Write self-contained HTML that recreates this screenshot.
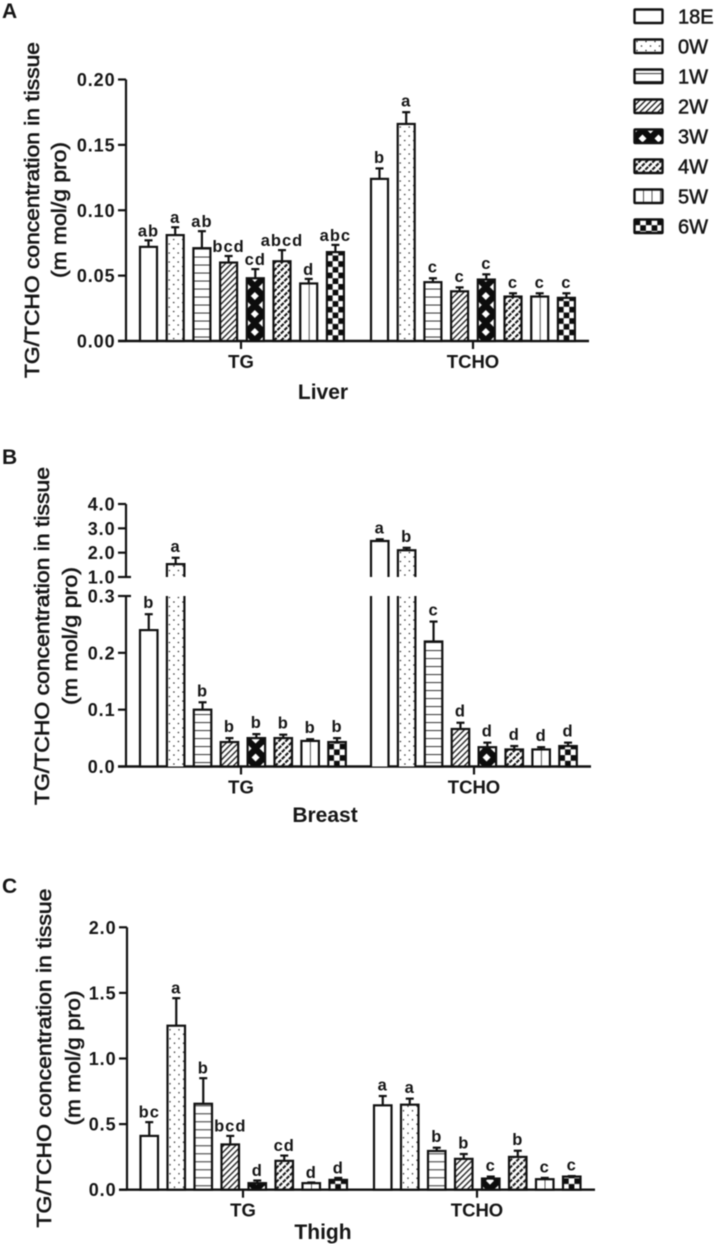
<!DOCTYPE html>
<html>
<head>
<meta charset="utf-8">
<title>TG/TCHO concentration in tissue</title>
<style>
html,body{margin:0;padding:0;background:#fff}
#chart{display:block;filter:blur(0.4px)}
text{font-family:"Liberation Sans",sans-serif;fill:#161616}
.tick{font-size:18px;font-weight:bold;text-anchor:end;letter-spacing:.9px}
.letter{font-size:16.5px;font-weight:bold;text-anchor:middle;letter-spacing:1px}
.group{font-size:18.5px;font-weight:bold;text-anchor:middle}
.tissue{font-size:21px;font-weight:bold;text-anchor:middle}
.panel{font-size:21px;font-weight:bold}
.ytitle{font-size:20px;text-anchor:middle;stroke:#161616;stroke-width:.6px}
.legend{font-size:20px;stroke:#161616;stroke-width:.5px}
</style>
</head>
<body>
<svg id="chart" width="716" height="1244" viewBox="0 0 716 1244" xmlns="http://www.w3.org/2000/svg">
<defs>
<pattern id="p18E" width="10" height="10" patternUnits="userSpaceOnUse"><rect width="10" height="10" fill="#fff"/></pattern>
<pattern id="p0W" width="9" height="9" patternUnits="userSpaceOnUse"><rect width="9" height="9" fill="#fff"/><circle cx="2.5" cy="2" r=".75" fill="#222"/><circle cx="7" cy="6.5" r=".75" fill="#222"/></pattern>
<pattern id="p1W" width="8" height="8" patternUnits="userSpaceOnUse"><rect width="8" height="8" fill="#fff"/><rect y="3.5" width="8" height="1.1" fill="#444"/></pattern>
<pattern id="p2W" width="6" height="6" patternUnits="userSpaceOnUse"><rect width="6" height="6" fill="#fff"/><path d="M-1.5 1.5L1.5 -1.5M0 6L6 0M4.5 7.5L7.5 4.5" stroke="#222" stroke-width="1.4"/></pattern>
<pattern id="p3W" width="16" height="18" patternUnits="userSpaceOnUse"><rect width="16" height="18" fill="#0c0c0c"/><path d="M8 5L12 9L8 13L4 9Z" fill="#fff"/><path d="M0 -4L4 0L0 4L-4 0ZM16 -4L20 0L16 4L12 0ZM0 14L4 18L0 22L-4 18ZM16 14L20 18L16 22L12 18Z" fill="#fff"/></pattern>
<pattern id="p4W" width="7" height="7" patternUnits="userSpaceOnUse"><rect width="7" height="7" fill="#fff"/><path d="M-1.75 1.75L1.75 -1.75M0 7L7 0M5.25 8.75L8.75 5.25" stroke="#1a1a1a" stroke-width="2.1"/><path d="M0 0L7 7M-3.5 3.5L3.5 10.5M3.5 -3.5L10.5 3.5" stroke="#fff" stroke-width="1"/></pattern>
<pattern id="p5W" width="8.5" height="10" patternUnits="userSpaceOnUse"><rect width="8.5" height="10" fill="#fff"/><rect x="0" width="1" height="10" fill="#555"/></pattern>
<pattern id="p6W" width="11.4" height="11.4" patternUnits="userSpaceOnUse"><rect width="11.4" height="11.4" fill="#fff"/><rect width="5.7" height="5.7" fill="#0c0c0c"/><rect x="5.7" y="5.7" width="5.7" height="5.7" fill="#0c0c0c"/></pattern>
</defs>
</svg>
<script>
const weeks = ['18E','0W','1W','2W','3W','4W','5W','6W'];
const groups = ['TG','TCHO'];

const liverTicks = ['0.00','0.05','0.10','0.15','0.20'];
const liverTgValues = [0.072,0.081,0.071,0.060,0.048,0.061,0.044,0.068];
const liverTgTops = [0.077,0.087,0.084,0.065,0.055,0.0695,0.0475,0.0735];
const liverTgLetters = ['ab','a','ab','bcd','cd','abcd','d','abc'];
const liverTchoValues = [0.124,0.166,0.045,0.038,0.047,0.034,0.034,0.033];
const liverTchoTops = [0.132,0.175,0.048,0.041,0.051,0.0365,0.0365,0.0365];
const liverTchoLetters = ['b','a','c','c','c','c','c','c'];

const breastLowerTicks = ['0.0','0.1','0.2','0.3'];
const breastUpperTicks = ['1.0','2.0','3.0','4.0'];
const breastTgValues = [0.24,1.53,0.10,0.043,0.05,0.05,0.045,0.043];
const breastTgTops = [0.268,1.79,0.113,0.05,0.057,0.056,0.048,0.05];
const breastTgLetters = ['b','a','b','b','b','b','b','b'];
const breastTchoValues = [2.48,2.10,0.22,0.066,0.034,0.03,0.03,0.036];
const breastTchoTops = [2.55,2.20,0.255,0.077,0.042,0.036,0.034,0.042];
const breastTchoLetters = ['a','b','c','d','d','d','d','d'];

const thighTicks = ['0.0','0.5','1.0','1.5','2.0'];
const thighTgValues = [0.41,1.25,0.655,0.345,0.05,0.22,0.05,0.075];
const thighTgTops = [0.515,1.46,0.85,0.41,0.07,0.26,0.055,0.09];
const thighTgLetters = ['bc','a','b','bcd','d','cd','d','d'];
const thighTchoValues = [0.643,0.648,0.295,0.235,0.085,0.25,0.08,0.10];
const thighTchoTops = [0.714,0.694,0.32,0.272,0.10,0.297,0.09,0.104];
const thighTchoLetters = ['a','a','b','b','c','b','c','c'];

const svg = document.getElementById('chart');
const NS = 'http://www.w3.org/2000/svg';
const INK = '#111';

function mk(tag, parent, props, content) {
  const el = document.createElementNS(NS, tag);
  for (const k in props) el.setAttribute(k, props[k]);
  if (content !== undefined) el.textContent = content;
  parent.appendChild(el);
  return el;
}
function line(parent, x1, y1, x2, y2, w) {
  return mk('line', parent, {x1:x1, y1:y1, x2:x2, y2:y2, stroke:INK, 'stroke-width':w || 2.2});
}

function linearScale(dMin, dMax, pMin, pMax) {
  return v => pMin + (v - dMin) / (dMax - dMin) * (pMax - pMin);
}

function yTicks(g, labels, scale, axisX, tickLeft) {
  labels.forEach(t => {
    const y = scale(parseFloat(t));
    const tick = line(g, tickLeft, y, axisX, y);
    
    
    const lab = mk('text', g, {class:'tick', x:tickLeft - 2.5, y:y + 6.5}, t);
    
    
  });
}

function drawBar(g, groupName, i, x, w, baseY, scale, value, top, letter, gap, labelGap) {
  const bar = mk('g', g, {transform:'translate(' + x + ',' + baseY + ')'});
  
  
  const fill = 'url(#p' + weeks[i] + ')';
  const vy = scale(value) - baseY;
  const ty = scale(top) - baseY;
  const cx = w / 2;
  line(bar, cx, vy, cx, ty, 2.2);
  line(bar, cx - 4, ty, cx + 4, ty, 2.2);
  if (gap && vy < gap.high - baseY) {
    const lowTop = gap.low - baseY;
    const upBottom = gap.high - baseY;
    mk('rect', bar, {x:0, y:lowTop, width:w, height:-lowTop, fill:fill});
    mk('rect', bar, {x:0, y:vy, width:w, height:upBottom - vy, fill:fill});
    mk('path', bar, {d:'M0 0V' + lowTop + 'M' + w + ' 0V' + lowTop, fill:'none', stroke:INK, 'stroke-width':2.2});
    mk('path', bar, {d:'M0 ' + upBottom + 'V' + vy + 'H' + w + 'V' + upBottom, fill:'none', stroke:INK, 'stroke-width':2.2});
  } else {
    mk('rect', bar, {x:0, y:vy, width:w, height:-vy, fill:fill, stroke:INK, 'stroke-width':2.2});
  }
  const lab = mk('text', g, {class:'letter', x:x + cx, y:baseY + ty - labelGap}, letter);
  
  
}

function drawPanel(cfg) {
  const g = mk('g', svg, {});
  
  

  const pl = mk('text', g, {class:'panel', x:2, y:cfg.letterY}, cfg.key.toUpperCase());
  
  

  const t1 = mk('text', g, {class:'ytitle', transform:'translate(' + cfg.title1X + ',' + cfg.titleY + ') rotate(-90)', textLength:cfg.titleLen, lengthAdjust:'spacingAndGlyphs'}, 'TG/TCHO concentration in tissue');
  
  
  const t2 = mk('text', g, {class:'ytitle', transform:'translate(' + cfg.title2X + ',' + cfg.titleY + ') rotate(-90)', textLength:cfg.subLen, lengthAdjust:'spacingAndGlyphs'}, '(m mol/g pro)');
  
  

  const xa = line(g, cfg.tickLeft, cfg.baseY, cfg.axisEnd, cfg.baseY, 2.4);
  
  

  cfg.axes(g);

  cfg.series.forEach((s, gi) => {
    s.values.forEach((v, i) => {
      drawBar(g, groups[gi], i, s.start + i * cfg.step, cfg.barW, cfg.baseY, cfg.scale, v, s.tops[i], s.letters[i], cfg.gap, s.labelGap);
    });
    const tk = line(g, s.tick, cfg.baseY, s.tick, cfg.baseY + 8);
    
    
    const lb = mk('text', g, {class:'group', x:s.tick, y:cfg.baseY + cfg.groupDy}, groups[gi]);
    
    
  });

  const ts = mk('text', g, {class:'tissue', x:cfg.tissueX, y:cfg.tissueY}, cfg.tissue);
  
  
}

/* Panel A */
const yLiver = linearScale(0, 0.2, 341, 79.5);
drawPanel({
  key:'a', tissue:'Liver', tissueX:323, tissueY:399, letterY:18,
  title1X:39, title2X:66, titleY:210, titleLen:336, subLen:136,
  baseY:341, tickLeft:118, axisEnd:589, step:26.7, barW:17, groupDy:27, scale:yLiver,
  axes:function(g){
    const ax = line(g, 126, 79.5, 126, 341);
    
    
    yTicks(g, liverTicks, yLiver, 126, 118);
  },
  series:[
    {start:140, tick:241, values:liverTgValues, tops:liverTgTops, letters:liverTgLetters, labelGap:4},
    {start:371, tick:473, values:liverTchoValues, tops:liverTchoTops, letters:liverTchoLetters, labelGap:5.5}
  ]
});

/* Panel B, broken axis */
const yBreastLow = linearScale(0, 0.3, 766.5, 596);
const yBreastHigh = linearScale(1, 4, 577, 504);
const yBreast = v => v <= 0.3 ? yBreastLow(v) : yBreastHigh(v);
drawPanel({
  key:'b', tissue:'Breast', tissueX:325, tissueY:822, letterY:464,
  title1X:49, title2X:77, titleY:636, titleLen:338, subLen:138,
  baseY:766.5, tickLeft:118, axisEnd:591, step:26.9, barW:17.5, groupDy:27, scale:yBreast,
  gap:{low:596, high:577},
  axes:function(g){
    const ax1 = line(g, 126, 596, 126, 766.5);
    
    
    const ax2 = line(g, 126, 504, 126, 577);
    
    
    line(g, 126, 596, 131, 596);
    line(g, 126, 577, 131, 577);
    yTicks(g, breastLowerTicks, yBreastLow, 126, 118);
    yTicks(g, breastUpperTicks, yBreastHigh, 126, 118);
  },
  series:[
    {start:140, tick:241, values:breastTgValues, tops:breastTgTops, letters:breastTgLetters, labelGap:6},
    {start:371, tick:474, values:breastTchoValues, tops:breastTchoTops, letters:breastTchoLetters, labelGap:6}
  ]
});

/* Panel C */
const yThigh = linearScale(0, 2, 1189.7, 927.3);
drawPanel({
  key:'c', tissue:'Thigh', tissueX:323, tissueY:1239, letterY:893,
  title1X:51, title2X:80, titleY:1058, titleLen:339, subLen:135,
  baseY:1189.7, tickLeft:119, axisEnd:595, step:27, barW:17.5, groupDy:27, scale:yThigh,
  axes:function(g){
    const ax = line(g, 127, 927.3, 127, 1189.7);
    
    
    yTicks(g, thighTicks, yThigh, 127, 119);
  },
  series:[
    {start:140.5, tick:243, values:thighTgValues, tops:thighTgTops, letters:thighTgLetters, labelGap:4.5},
    {start:374, tick:477, values:thighTchoValues, tops:thighTchoTops, letters:thighTchoLetters, labelGap:5.5}
  ]
});

/* Legend */
const legend = mk('g', svg, {});


weeks.forEach((w, i) => {
  const y = 9.5 + i * 30;
  const entry = mk('g', legend, {});
  
  
  const sw = mk('g', entry, {transform:'translate(634.5,' + y + ')'});
  
  
  mk('rect', sw, {x:0, y:0, width:28, height:13.5, fill:'url(#p' + w + ')', stroke:INK, 'stroke-width':2.4, rx:.8});
  const t = mk('text', entry, {class:'legend', x:678, y:y + 14}, w);
  
  
});
</script>
</body>
</html>
